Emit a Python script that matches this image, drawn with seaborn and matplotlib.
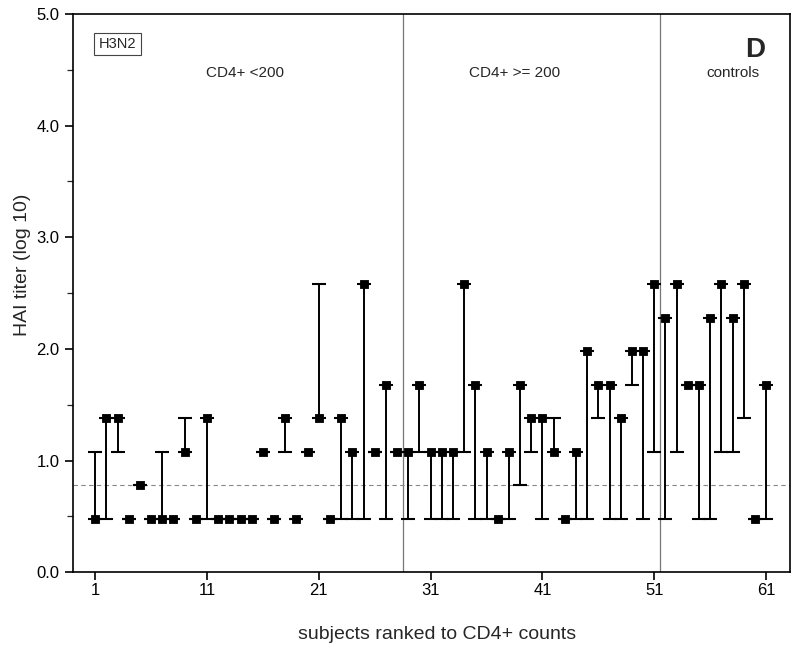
import numpy as np
import pandas as pd
import matplotlib
matplotlib.use("Agg")
import matplotlib.pyplot as plt
import seaborn as sns

# Données (log10 des titres HAI)
subjects = list(range(1, 62))
post_titer = [0.48, 1.38, 1.38, 0.48, 0.78, 0.48, 0.48, 0.48, 1.08, 0.48,
              1.38, 0.48, 0.48, 0.48, 0.48, 1.08, 0.48, 1.38, 0.48, 1.08,
              1.38, 0.48, 1.38, 1.08, 2.58, 1.08, 1.68, 1.08, 1.08, 1.68,
              1.08, 1.08, 1.08, 2.58, 1.68, 1.08, 0.48, 1.08, 1.68, 1.38,
              1.38, 1.08, 0.48, 1.08, 1.98, 1.68, 1.68, 1.38, 1.98, 1.98,
              2.58, 2.28, 2.58, 1.68, 1.68, 2.28, 2.58, 2.28, 2.58, 0.48,
              1.68]
pre_titer = [1.08, 0.48, 1.08, 0.48, 0.78, 0.48, 1.08, 0.48, 1.38, 0.48,
             0.48, 0.48, 0.48, 0.48, 0.48, 1.08, 0.48, 1.08, 0.48, 1.08,
             2.58, 0.48, 0.48, 0.48, 0.48, 1.08, 0.48, 1.08, 0.48, 1.08,
             0.48, 0.48, 0.48, 1.08, 0.48, 0.48, 0.48, 0.48, 0.78, 1.08,
             0.48, 1.38, 0.48, 0.48, 0.48, 1.38, 0.48, 0.48, 1.68, 0.48,
             1.08, 0.48, 1.08, 1.68, 0.48, 0.48, 1.08, 1.08, 1.38, 0.48,
             0.48]
group_bounds = [28.5, 51.5]
cutoff = 0.78
group_labels = ["CD4+ <200", "CD4+ >= 200", "controls"]
group_label_x = [14.4, 38.5, 58.0]

df = pd.DataFrame({"subject": subjects, "post": post_titer, "pre": pre_titer})

sns.set_style("ticks")
plt.rcParams["font.family"] = ["Liberation Sans", "DejaVu Sans"]

fig = plt.figure(figsize=(8, 6.53), dpi=100)
ax = fig.add_axes([0.091, 0.1236, 0.896, 0.855])

# Lignes de séparation des groupes et seuil
for b in group_bounds:
    ax.axvline(b, color="#777777", lw=0.9, zorder=1)
ax.axhline(cutoff, color="#888888", lw=0.8, ls=(0, (4, 3)), zorder=1)

# Barres verticales entre les deux titres
ax.vlines(df["subject"], df["pre"], df["post"], color="black", lw=1.4, zorder=2)

# Traits horizontaux aux deux extrémités
sns.scatterplot(data=df, x="subject", y="pre", marker="_", s=110, color="black",
                linewidth=1.5, ax=ax, zorder=3)
sns.scatterplot(data=df, x="subject", y="post", marker="_", s=110, color="black",
                linewidth=1.5, ax=ax, zorder=3)
# Carrés pour le titre après vaccination
sns.scatterplot(data=df, x="subject", y="post", marker="s", s=34, color="black",
                edgecolor="black", linewidth=0.6, ax=ax, zorder=4)

ax.set_xlim(-1, 63.1)
ax.set_ylim(0, 5)
ax.set_xticks([1, 11, 21, 31, 41, 51, 61])
ax.set_yticks([0, 1, 2, 3, 4, 5])
ax.set_yticks(np.arange(0.5, 5, 1.0), minor=True)
ax.set_yticklabels(["0.0", "1.0", "2.0", "3.0", "4.0", "5.0"])
ax.tick_params(axis="both", which="major", direction="out", length=6, width=1.2,
               labelsize=12, color="black", labelcolor="black")
ax.tick_params(axis="x", which="major", pad=2)
ax.tick_params(axis="y", which="minor", direction="out", length=4, width=0.9)

for sp in ax.spines.values():
    sp.set_visible(True)
    sp.set_color("black")
    sp.set_linewidth(1.2)

ax.set_xlabel("subjects ranked to CD4+ counts", fontsize=14)
ax.set_ylabel("HAI titer (log 10)", fontsize=14)
ax.xaxis.set_label_coords(0.508, -0.097)
ax.yaxis.set_label_coords(-0.058, 0.55)

for lx, lab in zip(group_label_x, group_labels):
    ax.text(lx, 4.47, lab, ha="center", va="center", fontsize=11)
ax.text(60.0, 4.68, "D", ha="center", va="center", fontsize=20, fontweight="bold")
ax.text(3.0, 4.73, "H3N2", ha="center", va="center", fontsize=10.5,
        bbox=dict(boxstyle="square,pad=0.3", facecolor="white", edgecolor="#444444", lw=0.8))

fig.savefig("out.png", dpi=100)
